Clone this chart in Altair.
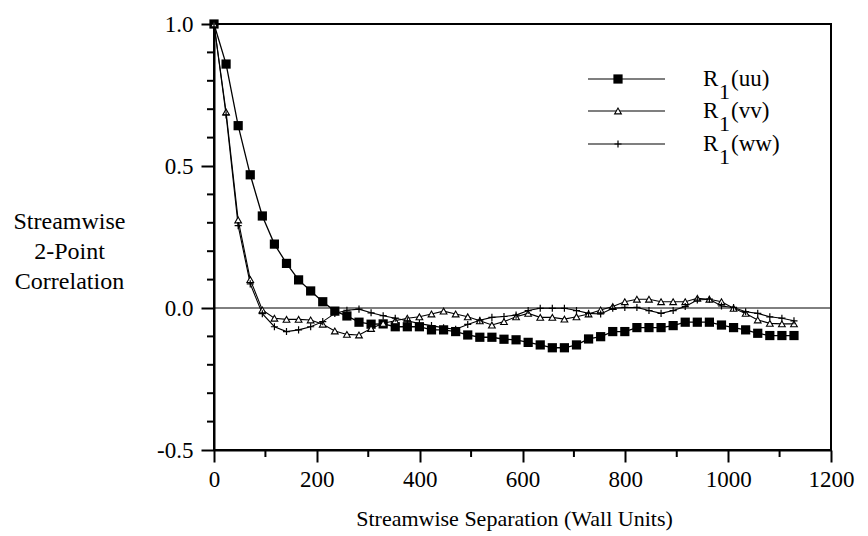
import altair as alt
import pandas as pd

# ---- data ----
x_sep = [0, 23.5, 47, 70.5, 94, 117.5, 141, 164.5, 188, 211.5, 235, 258.5, 282,
         305.5, 329, 352.5, 376, 399.5, 423, 446.5, 470, 493.5, 517, 540.5, 564,
         587.5, 611, 634.5, 658, 681.5, 705, 728.5, 752, 775.5, 799, 822.5, 846,
         869.5, 893, 916.5, 940, 963.5, 987, 1010.5, 1034, 1057.5, 1081, 1104.5, 1128]
r_uu = [1.0, 0.859, 0.642, 0.469, 0.324, 0.225, 0.157, 0.099, 0.060, 0.022, -0.011,
        -0.028, -0.050, -0.057, -0.056, -0.066, -0.066, -0.066, -0.077, -0.077, -0.083,
        -0.095, -0.103, -0.103, -0.110, -0.112, -0.121, -0.130, -0.140, -0.140, -0.130,
        -0.109, -0.101, -0.083, -0.083, -0.069, -0.069, -0.069, -0.062, -0.050, -0.050,
        -0.050, -0.060, -0.069, -0.077, -0.089, -0.097, -0.097, -0.097]
r_vv = [1.0, 0.69, 0.31, 0.10, -0.007, -0.036, -0.040, -0.040, -0.042, -0.057, -0.081,
        -0.093, -0.095, -0.072, -0.054, -0.045, -0.036, -0.031, -0.021, -0.011, -0.021,
        -0.031, -0.045, -0.060, -0.048, -0.031, -0.019, -0.033, -0.033, -0.039, -0.031,
        -0.021, -0.007, 0.005, 0.022, 0.031, 0.031, 0.022, 0.022, 0.022, 0.034, 0.031,
        0.022, -0.001, -0.019, -0.042, -0.054, -0.056, -0.056]
r_ww = [1.0, 0.68, 0.29, 0.085, -0.020, -0.066, -0.083, -0.077, -0.066, -0.048, -0.019,
        -0.008, -0.004, -0.017, -0.027, -0.036, -0.045, -0.055, -0.062, -0.070, -0.075,
        -0.058, -0.043, -0.033, -0.030, -0.025, -0.009, -0.001, -0.001, -0.001, -0.009,
        -0.019, -0.021, -0.001, 0.002, 0.002, -0.009, -0.019, -0.009, 0.005, 0.028, 0.031,
        0.007, 0.002, -0.013, -0.019, -0.031, -0.036, -0.045]

x_major = [0, 200, 400, 600, 800, 1000, 1200]
x_minor = [100, 300, 500, 700, 900, 1100]
y_major = [-0.5, 0.0, 0.5, 1.0]
y_minor = [-0.4, -0.3, -0.2, -0.1, 0.1, 0.2, 0.3, 0.4, 0.6, 0.7, 0.8, 0.9]
zero_level = [0.0]
legend_keys = ["(uu)", "(vv)", "(ww)"]

FONT = "Liberation Serif, Times New Roman, DejaVu Serif, serif"
W, H = 617, 426

df = pd.DataFrame({"sep": x_sep, "uu": r_uu, "vv": r_vv, "ww": r_ww})

xscale = alt.Scale(domain=[0, 1200], nice=False, zero=False)
yscale = alt.Scale(domain=[-0.5, 1.0], nice=False, zero=False)

x_axis = alt.Axis(
    values=x_major, format="d", labelFlush=False, grid=False,
    title="Streamwise Separation (Wall Units)",
    titleFont=FONT, titleFontSize=22, titleFontWeight="normal", titleColor="black",
    titleBaseline="alphabetic", titleY=75, titleX=300,
    labelFont=FONT, labelFontSize=23, labelColor="black", labelPadding=6,
    tickSize=12, tickWidth=2, tickColor="black", domainWidth=2, domainColor="black",
)
y_axis = alt.Axis(
    values=y_major, grid=False,
    labelExpr="datum.value < 0 ? '-' + format(-datum.value, '.1f') : format(datum.value, '.1f')",
    title=["Streamwise", "2-Point", "Correlation"],
    titleAngle=0, titleAlign="center", titleBaseline="alphabetic",
    titleX=-145, titleY=204, titleLineHeight=30,
    titleFont=FONT, titleFontSize=24, titleFontWeight="normal", titleColor="black",
    labelFont=FONT, labelFontSize=23, labelColor="black", labelPadding=8,
    labelBaseline="middle",
    tickSize=13, tickWidth=2, tickColor="black", domainWidth=2, domainColor="black",
)


def X(field):
    return alt.X(field, scale=xscale, axis=x_axis)


def Y(field):
    return alt.Y(field, scale=yscale, axis=y_axis)


base = alt.Chart(df)


def series_line(col, w):
    return base.mark_line(color="black", strokeWidth=w).encode(
        x=X("sep:Q"), y=Y(f"{col}:Q"))


PLUS = "M-1,0L1,0M0,-1L0,1"

uu_pts = base.mark_point(shape="square", filled=True, color="black", size=85, opacity=1).encode(
    x=X("sep:Q"), y=Y("uu:Q"))
vv_pts = base.mark_point(shape="triangle-up", filled=True, fill="white", stroke="black",
                         strokeWidth=1.1, size=45, opacity=1).encode(
    x=X("sep:Q"), y=Y("vv:Q"))
ww_pts = base.mark_point(shape=PLUS, filled=False, stroke="black", strokeWidth=1.2,
                         size=50, opacity=1).encode(
    x=X("sep:Q"), y=Y("ww:Q"))

zero_rule = alt.Chart(pd.DataFrame({"z": zero_level})).mark_rule(
    color="black", strokeWidth=1).encode(y=Y("z:Q"))

xminor = alt.Chart(pd.DataFrame({"t": x_minor})).mark_rule(
    color="black", strokeWidth=2).encode(
    x=X("t:Q"), y=alt.value(H), y2=alt.value(H + 7))
yminor = alt.Chart(pd.DataFrame({"t": y_minor})).mark_rule(
    color="black", strokeWidth=2).encode(
    y=Y("t:Q"), x=alt.value(0), x2=alt.value(-7))

# ---- legend (drawn by hand) ----
leg_layers = []
row_y = [55, 87, 120]
marker_specs = [
    dict(shape="square", filled=True, color="black", size=85),
    dict(shape="triangle-up", filled=True, fill="white", stroke="black", strokeWidth=1.1, size=45),
    dict(shape=PLUS, filled=False, stroke="black", strokeWidth=1.2, size=50),
]
one = pd.DataFrame({"k": [0]})
for key, ry, spec in zip(legend_keys, row_y, marker_specs):
    leg_layers.append(alt.Chart(one).mark_rule(color="black", strokeWidth=1.1).encode(
        x=alt.value(374), x2=alt.value(451), y=alt.value(ry)))
    leg_layers.append(alt.Chart(one).mark_point(opacity=1, **spec).encode(
        x=alt.value(404), y=alt.value(ry)))
    leg_layers.append(alt.Chart(one).mark_text(
        text="R", font=FONT, fontSize=23, align="left", baseline="alphabetic", color="black").encode(
        x=alt.value(489), y=alt.value(ry + 7)))
    leg_layers.append(alt.Chart(one).mark_text(
        text="1", font=FONT, fontSize=22, align="left", baseline="alphabetic", color="black").encode(
        x=alt.value(505), y=alt.value(ry + 20)))
    leg_layers.append(alt.Chart(one).mark_text(
        text=key, font=FONT, fontSize=23, align="left", baseline="alphabetic", color="black").encode(
        x=alt.value(517), y=alt.value(ry + 7)))

chart = alt.layer(
    series_line("uu", 1.3), zero_rule, series_line("vv", 1.1), series_line("ww", 1.1),
    uu_pts, vv_pts, ww_pts, xminor, yminor, *leg_layers
).properties(
    width=W, height=H,
    autosize=alt.AutoSizeParams(type="none"),
    padding={"left": 214, "top": 24, "right": 37, "bottom": 86},
    background="white",
).configure_view(stroke="black", strokeWidth=2)

chart.save("out.html", embed_options={"renderer": "svg", "actions": False})
